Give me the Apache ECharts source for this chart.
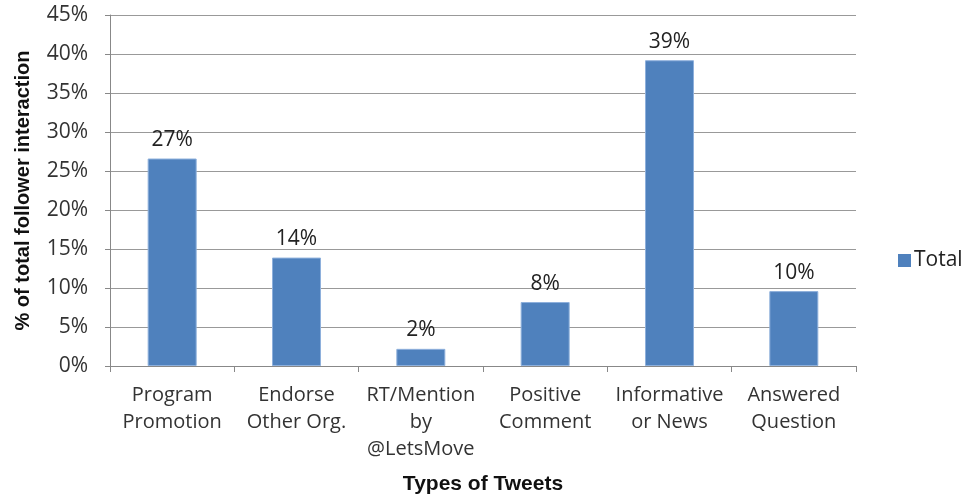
<!DOCTYPE html>
<html><head><meta charset="utf-8">
<script src="https://cdn.jsdelivr.net/npm/echarts@6/dist/echarts.min.js"></script>
<style>html,body{margin:0;padding:0;background:#fff}#c{width:965px;height:494px}</style>
</head><body><div id="c"></div>
<script>
const categories = ["Program\nPromotion", "Endorse\nOther Org.", "RT/Mention\nby\n@LetsMove", "Positive\nComment", "Informative\nor News", "Answered\nQuestion"];
const totalValues = [26.6, 13.9, 2.2, 8.2, 39.2, 9.6];
const seriesName = "Total";
const yTicks = [0, 5, 10, 15, 20, 25, 30, 35, 40, 45];

const font = "Open Sans, Liberation Sans, Arial, sans-serif";
const boldFont = "Liberation Sans, Arial, sans-serif";
const chart = echarts.init(document.getElementById('c'));
chart.setOption({
  animation: false,
  grid: {left: 110, right: 109, top: 15, bottom: 128, containLabel: false, outerBoundsMode: 'none'},
  legend: {
    orient: 'vertical', left: 893, top: 245, itemWidth: 13, itemHeight: 13, itemGap: 8,
    icon: 'rect',
    itemStyle: {borderWidth: 0},
    textStyle: {fontFamily: font, fontSize: 21, color: '#222', padding: [0, 0, 0, -2]},
    data: [seriesName]
  },
  xAxis: {
    type: 'category', data: categories,
    name: 'Types of Tweets', nameLocation: 'middle', nameGap: 108,
    nameTextStyle: {fontFamily: boldFont, fontSize: 21, fontWeight: 'bold', color: '#111'},
    axisLine: {lineStyle: {color: '#888'}},
    axisTick: {show: true, alignWithLabel: false, length: 6, lineStyle: {color: '#888'}},
    axisLabel: {fontFamily: font, fontSize: 20, color: '#333', lineHeight: 27, margin: 16, interval: 0}
  },
  yAxis: {
    type: 'value', min: yTicks[0], max: yTicks[yTicks.length - 1], interval: 5,
    name: '% of total follower interaction', nameLocation: 'middle', nameGap: 77, nameRotate: 90,
    nameTextStyle: {fontFamily: boldFont, fontSize: 20, fontWeight: 'bold', color: '#111'},
    axisLine: {show: true, lineStyle: {color: '#888'}},
    axisTick: {show: true, length: 5, lineStyle: {color: '#888'}},
    splitLine: {lineStyle: {color: '#999', width: 1}},
    axisLabel: {fontFamily: font, fontSize: 21, color: '#333', margin: 22, formatter: v => v + '%'}
  },
  series: [{
    name: seriesName, type: 'bar', data: totalValues, barWidth: 49,
    itemStyle: {color: '#4f81bd', borderColor: '#8eb0dc', borderWidth: 1},
    label: {show: true, position: 'top', distance: 8, fontFamily: font, fontSize: 21, color: '#222',
      formatter: p => Math.round(p.value) + '%'}
  }]
});
</script></body></html>
